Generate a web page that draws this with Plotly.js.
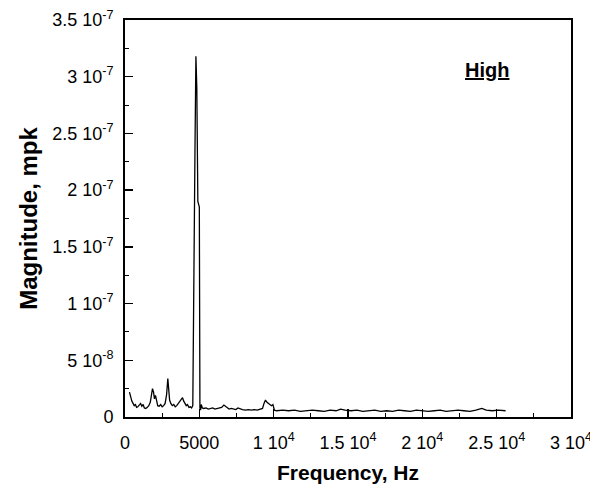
<!DOCTYPE html>
<html>
<head>
<meta charset="utf-8">
<script src="https://cdn.plot.ly/plotly-3.0.1.min.js"></script>
<style>html,body{margin:0;padding:0;background:#fff;}#chart{width:590px;height:490px;}</style>
</head>
<body>
<div id="chart"></div>
<script>
var frequency = [300,380,460,540,620,700,780,860,950,1050,1130,1220,1300,1400,1500,1600,1700,1780,1850,1920,1980,2050,2120,2200,2300,2400,2500,2600,2700,2800,2880,2940,3000,3080,3180,3280,3380,3480,3580,3680,3780,3870,3950,4030,4120,4200,4300,4400,4480,4560,4590,4650,4710,4770,4830,4900,5000,5040,5080,5130,5200,5300,5450,5600,5750,5900,6050,6200,6350,6500,6650,6750,6850,7000,7150,7300,7450,7600,7750,7900,8100,8300,8500,8700,8900,9100,9250,9350,9450,9550,9650,9750,9850,9950,10050,10200,10600,11000,11400,11800,12200,12600,13000,13400,13800,14200,14500,14800,15200,15600,16000,16400,16800,17200,17600,18000,18400,18800,19200,19600,20000,20400,20800,21200,21600,22000,22400,22800,23200,23600,24000,24300,24700,25100,25600];
var magnitude = [2.2e-8,1.7e-8,1.4e-8,1.2e-8,1.0e-8,1.1e-8,0.85e-8,0.9e-8,1.05e-8,1.2e-8,0.95e-8,1.1e-8,0.8e-8,0.75e-8,0.85e-8,1.0e-8,1.3e-8,2.0e-8,2.5e-8,2.2e-8,1.6e-8,1.9e-8,1.3e-8,1.0e-8,0.95e-8,1.1e-8,0.9e-8,1.0e-8,1.2e-8,2.0e-8,3.4e-8,2.6e-8,1.5e-8,1.2e-8,1.0e-8,1.1e-8,0.9e-8,1.0e-8,1.2e-8,1.3e-8,1.5e-8,1.7e-8,1.4e-8,1.2e-8,1.0e-8,1.1e-8,0.85e-8,0.9e-8,0.8e-8,1.0e-8,7.5e-8,1.4e-7,2.4e-7,3.18e-7,2.9e-7,1.9e-7,1.85e-7,0.8e-8,0.6e-8,1.1e-8,0.8e-8,0.75e-8,0.8e-8,0.7e-8,0.75e-8,0.8e-8,0.7e-8,0.75e-8,0.8e-8,0.85e-8,1.05e-8,0.95e-8,0.8e-8,0.7e-8,0.75e-8,0.7e-8,0.65e-8,0.8e-8,0.7e-8,0.65e-8,0.6e-8,0.65e-8,0.6e-8,0.65e-8,0.6e-8,0.7e-8,0.75e-8,1.2e-8,1.5e-8,1.3e-8,1.2e-8,1.15e-8,1.0e-8,1.1e-8,0.6e-8,0.55e-8,0.6e-8,0.55e-8,0.6e-8,0.5e-8,0.55e-8,0.6e-8,0.55e-8,0.5e-8,0.6e-8,0.55e-8,0.7e-8,0.6e-8,0.55e-8,0.6e-8,0.5e-8,0.55e-8,0.6e-8,0.5e-8,0.55e-8,0.5e-8,0.6e-8,0.55e-8,0.5e-8,0.6e-8,0.55e-8,0.5e-8,0.55e-8,0.6e-8,0.5e-8,0.55e-8,0.6e-8,0.55e-8,0.5e-8,0.6e-8,0.75e-8,0.6e-8,0.55e-8,0.6e-8,0.55e-8];

var xTickVals = [0,5000,10000,15000,20000,25000,30000];
var xTickText = ['0','5000','1 10<sup>4</sup>','1.5 10<sup>4</sup>','2 10<sup>4</sup>','2.5 10<sup>4</sup>','3 10<sup>4</sup>'];
var yTickVals = [0,5e-8,1e-7,1.5e-7,2e-7,2.5e-7,3e-7,3.5e-7];
var yTickText = ['0','5 10<sup>-8</sup>','1 10<sup>-7</sup>','1.5 10<sup>-7</sup>','2 10<sup>-7</sup>','2.5 10<sup>-7</sup>','3 10<sup>-7</sup>','3.5 10<sup>-7</sup>'];

var trace = {
  x: frequency, y: magnitude, type: 'scatter', mode: 'lines',
  line: {color: '#000', width: 1.3}, hoverinfo: 'skip'
};

var fam = 'Liberation Sans, Arial, sans-serif';

var layout = {
  width: 590, height: 490,
  margin: {l: 125, r: 19, t: 20, b: 73},
  paper_bgcolor: '#fff', plot_bgcolor: '#fff',
  showlegend: false,
  font: {family: fam, color: '#000', size: 17},
  xaxis: {
    range: [0, 30000], showgrid: false, zeroline: false,
    showline: true, linecolor: '#000', linewidth: 2, mirror: true,
    ticks: 'inside', ticklen: 8, tickwidth: 1.5, tickcolor: '#000',
    tickmode: 'array', tickvals: xTickVals, ticktext: xTickText,
    ticklabelstandoff: 8, ticklabeloverflow: 'allow',
    minor: {tickmode: 'linear', tick0: 0, dtick: 2500, ticks: 'inside', ticklen: 4, tickwidth: 1, tickcolor: '#000'},
    tickfont: {family: fam, size: 18, color: '#000'},
    title: {text: '<b>Frequency, Hz</b>', font: {family: fam, size: 21, color: '#000'}, standoff: 14}
  },
  yaxis: {
    range: [0, 3.5e-7], showgrid: false, zeroline: false,
    showline: true, linecolor: '#000', linewidth: 2, mirror: true,
    ticks: 'inside', ticklen: 8, tickwidth: 1.5, tickcolor: '#000',
    tickmode: 'array', tickvals: yTickVals, ticktext: yTickText,
    ticklabelstandoff: 6,
    minor: {tickmode: 'linear', tick0: 0, dtick: 2.5e-8, ticks: 'inside', ticklen: 4, tickwidth: 1, tickcolor: '#000'},
    tickfont: {family: fam, size: 18, color: '#000'},
    title: {text: '<b>Magnitude, mpk</b>', font: {family: fam, size: 24, color: '#000'}, standoff: 8}
  },
  annotations: [{
    xref: 'paper', yref: 'paper', x: 0.812, y: 0.874, xanchor: 'center', yanchor: 'middle',
    text: '<b><u>High</u></b>', showarrow: false,
    font: {family: fam, size: 20, color: '#000'}
  }]
};

Plotly.newPlot('chart', [trace], layout, {displayModeBar: false, staticPlot: true});
</script>
</body>
</html>
